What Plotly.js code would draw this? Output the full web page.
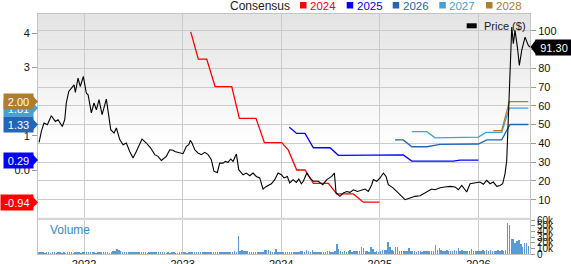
<!DOCTYPE html>
<html><head><meta charset="utf-8">
<script src="https://cdn.plot.ly/plotly-3.0.1.min.js"></script>
<style>html,body{margin:0;padding:0;background:#fff}#c{width:571px;height:264px}</style>
</head><body><div id="c"></div>
<script>
// ---- data ----
const priceT = [2021.544,2021.567,2021.594,2021.628,2021.668,2021.709,2021.736,2021.780,2021.804,2021.820,2021.845,2021.878,2021.899,2021.912,2021.939,2021.962,2021.993,
2022.023,2022.041,2022.074,2022.101,2022.125,2022.152,2022.183,2022.226,2022.271,2022.304,2022.328,2022.362,2022.396,2022.429,2022.463,2022.497,2022.530,2022.588,2022.632,2022.676,2022.717,2022.751,2022.784,2022.835,2022.869,2022.903,2022.920,2022.971,
2023.004,2023.038,2023.062,2023.078,2023.095,2023.123,2023.156,2023.190,2023.224,2023.258,2023.291,2023.318,2023.352,2023.376,2023.410,2023.433,2023.460,2023.488,2023.511,2023.545,2023.569,2023.613,2023.646,2023.681,2023.714,2023.747,2023.782,2023.815,2023.849,2023.900,2023.934,2023.968,
2024.001,2024.028,2024.062,2024.086,2024.120,2024.153,2024.178,2024.204,2024.224,2024.259,2024.292,2024.326,2024.376,2024.421,2024.462,2024.512,2024.539,2024.556,2024.596,2024.630,2024.664,2024.698,2024.731,2024.772,2024.816,2024.850,2024.883,2024.918,2024.934,2024.969,
2025.002,2025.036,2025.063,2025.086,2025.137,2025.188,2025.256,2025.306,2025.357,2025.408,2025.458,2025.492,2025.526,2025.560,2025.611,2025.661,2025.712,2025.763,2025.796,2025.831,2025.881,2025.915,2025.966,
2026.016,2026.050,2026.084,2026.118,2026.151,2026.186,2026.219,2026.246,2026.270,2026.287,2026.297,2026.313,2026.331,2026.338,2026.354,2026.371,2026.395,2026.415,2026.439,2026.473,2026.506,2026.523];
const priceV = [40.5,46.4,50.8,49.9,54.7,51.7,52.6,49.0,52.6,61.5,67.7,69.5,71.2,67.1,74.8,70.3,75.7,
66.8,65.9,56.2,61.5,57.9,63.3,55.3,63.6,47.3,45.5,48.2,42.0,39.3,40.2,35.7,32.2,35.7,42.3,40.2,37.5,34.0,33.1,30.9,33.1,36.6,36.3,35.7,34.9,
34.5,38.4,39.3,41.6,40.2,36.6,34.9,34.0,35.2,34.0,31.3,25.1,24.5,29.5,29.5,30.4,29.9,31.7,30.4,34.3,26.0,23.3,24.2,22.8,24.2,22.4,21.6,15.7,17.1,18.5,20.7,24.2,
23.3,21.6,22.4,18.9,20.7,19.2,21.0,18.5,19.8,24.2,21.6,19.8,19.8,18.0,20.7,22.4,24.2,13.6,11.8,13.6,14.4,13.9,15.3,14.4,15.3,15.7,14.4,18.0,20.7,19.8,
21.6,24.2,22.4,18.0,16.2,13.6,10.0,10.9,11.8,12.1,13.6,14.4,15.7,15.3,16.4,16.8,17.1,16.8,15.3,17.6,14.1,18.5,18.9,
19.4,18.2,20.3,18.5,19.4,17.1,17.6,18.5,23.9,30.9,46.9,73.5,98.4,102,93.1,100.2,91.3,81.5,89.5,96.6,92.2,91.3];

const eps2024T = [2023.082,2023.159,2023.244,2023.329,2023.498,2023.575,2023.744,2023.829,2024.005,2024.072,2024.157,2024.241,2024.326,2024.478,2024.563,2024.731,2024.833,2024.995];
const eps2024V = [4.04,3.24,3.24,2.44,2.44,1.51,1.51,0.80,0.80,0.58,0.00,0.00,-0.39,-0.39,-0.70,-0.70,-0.94,-0.94];
const eps2025T = [2024.082,2024.157,2024.241,2024.326,2024.495,2024.579,2025.238,2025.324,2025.745,2025.813,2025.999];
const eps2025V = [1.25,1.07,1.07,0.65,0.65,0.43,0.44,0.26,0.26,0.29,0.29];
const eps2026T = [2025.154,2025.238,2025.324,2025.476,2025.611,2025.999,2026.084,2026.236,2026.320,2026.506];
const eps2026V = [0.88,0.88,0.68,0.68,0.75,0.76,0.88,0.88,1.33,1.33];
const eps2027T = [2025.324,2025.476,2025.560,2025.999,2026.077,2026.236,2026.313,2026.506];
const eps2027V = [1.12,1.12,0.94,0.96,1.10,1.10,1.81,1.81];
const eps2028T = [2026.151,2026.236,2026.313,2026.506];
const eps2028V = [1.15,1.15,2.00,2.00];

// weekly volume (thousands), first week starting mid-July 2021
const volStart = 2021.545;
const volK = [4,3,3,2,3,3,2,3,3,2,3,3,2,
3,2,3,3,3,2,3,4,3,2,3,3,3,
3,4,3,3,2,3,3,3,4,3,3,2,3,
5,6,9,7,5,4,4,3,3,4,3,3,3,
3,3,4,3,3,2,3,3,3,3,4,3,3,
3,3,2,3,2,3,3,2,2,3,3,3,3,
2,3,3,3,3,3,3,4,3,3,3,3,3,
3,4,3,4,3,4,4,3,3,4,4,4,5,
4,33,6,7,6,6,5,4,4,3,3,4,3,
4,3,7,8,7,5,4,4,9,3,3,4,4,
3,3,3,3,4,3,3,4,6,5,4,8,5,
4,7,4,3,3,3,4,3,4,5,5,4,4,
6,17,9,5,4,6,4,5,8,4,6,5,6,
6,12,10,5,5,4,12,9,4,5,4,5,7,
8,8,21,12,7,5,12,12,6,5,6,5,6,
10,5,6,5,4,6,5,4,5,6,5,5,6,
5,16,8,10,8,6,5,7,6,5,6,7,5,
11,6,7,5,6,6,5,9,5,5,6,5,5,
7,6,8,6,7,5,6,6,8,6,7,6,8,
55,51,27,27,20,23,25,17,12,20,20,15,14];
const volT = volK.map((v,i)=>volStart + i/52);

const yearTicks = [2022,2023,2024,2025,2026];
const priceTicks = [10,20,30,40,50,60,70,80,90,100];
const epsTicks = [-1,0,1,2,3,4];
const epsTickText = ['-1','0.0','1','2','3','4'];
const volTicks = [0,10,20,30,40,50,60];
const volTickText = ['0','10k','20k','30k','40k','50k','60k'];
const seriesNames = ['2024','2025','2026','2027','2028'];

// ---- styling ----
const C = {'2024':'#ff0000','2025':'#0000ff','2026':'#2166b8','2027':'#3fa2d8','2028':'#b07d2e'};
const W=571,H=264,L=38,R=41,T=14,B=10,PW=W-L-R,PH=H-T-B;
const px = x => (x-L)/PW, py = y => (H-B-y)/PH;
const FONT = 'Arial, "Liberation Sans", sans-serif';

const epsSeries = {'2024':[eps2024T,eps2024V],'2025':[eps2025T,eps2025V],'2026':[eps2026T,eps2026V],'2027':[eps2027T,eps2027V],'2028':[eps2028T,eps2028V]};

const traces = [];
['2027','2028','2026','2025','2024'].forEach(k=>{
  traces.push({x:epsSeries[k][0], y:epsSeries[k][1], type:'scatter', mode:'lines', yaxis:'y',
    line:{color:C[k], width:1.3}, hoverinfo:'skip'});
});
traces.push({x:priceT, y:priceV, type:'scatter', mode:'lines', yaxis:'y2', line:{color:'#000', width:1.1}, hoverinfo:'skip'});
traces.push({x:volT, y:volK, type:'bar', yaxis:'y3', width:0.0145, marker:{color:'#5b9bd5', line:{width:0}}, hoverinfo:'skip'});

const shapes = [];
// background gradient of main panel
const N=26;
for(let k=0;k<N;k++){
  const y1 = 1 - k*0.65/N, y0 = y1 - 0.65/N - 0.002;
  const c = Math.round(227 + (255-227)*(k+0.5)/N);
  shapes.push({type:'rect', layer:'below', xref:'paper', yref:'y domain', x0:0, x1:1, y0:y0, y1:y1,
    fillcolor:`rgb(${c},${c},${c})`, line:{width:0}});
}
// separator band between panels
shapes.push({type:'rect', xref:'paper', yref:'paper', x0:0, x1:1, y0:py(220), y1:py(217.8), fillcolor:'#d6d6d6', line:{width:0}});

const annotations = [];
// left EPS tags
const tagOrder = ['2027','2028','2026','2025','2024'];
tagOrder.forEach(k=>{
  const vals = epsSeries[k][1];
  const v = vals[vals.length-1];
  const neg = v < 0;
  const x0 = neg ? 0 : 3;
  shapes.push({type:'path', xref:'paper', yref:'y', xsizemode:'pixel', ysizemode:'pixel',
    xanchor:px(32), yanchor:v, path:'M-1,-7.5 L6,0 L-1,7.5 Z', fillcolor:C[k], line:{width:0}});
  annotations.push({xref:'paper', yref:'y', x:px(x0), y:v, xanchor:'left', yanchor:'middle',
    text:v.toFixed(2), showarrow:false, width:32-x0, height:15, bgcolor:C[k], borderpad:0,
    font:{family:FONT, size:11, color:'#fff'}, align:'center'});
});
// right price tag
const lastPrice = priceV[priceV.length-1];
shapes.push({type:'path', xref:'paper', yref:'y2', xsizemode:'pixel', ysizemode:'pixel',
  xanchor:px(535), yanchor:lastPrice, path:'M1,-7.5 L-4.5,0 L1,7.5 Z', fillcolor:'#000', line:{width:0}});
annotations.push({xref:'paper', yref:'y2', x:px(535), y:lastPrice, xanchor:'left', yanchor:'middle',
  text:lastPrice.toFixed(2), showarrow:false, width:36, height:15, bgcolor:'#000', borderpad:0,
  font:{family:FONT, size:11, color:'#fff'}, align:'center'});

// top legend
annotations.push({xref:'paper', yref:'paper', x:px(228), y:py(5.5), xanchor:'left', yanchor:'middle', showarrow:false,
  text:'Consensus', font:{family:FONT, size:12, color:'#1a1a1a'}});
const legPos = {'2024':300,'2025':346.7,'2026':392.7,'2027':439.3,'2028':486};
seriesNames.forEach(k=>{
  const x = legPos[k];
  shapes.push({type:'rect', xref:'paper', yref:'paper', x0:px(x), x1:px(x+6.5), y0:py(8.5), y1:py(2), fillcolor:C[k], line:{width:0}});
  annotations.push({xref:'paper', yref:'paper', x:px(x+8), y:py(5.5), xanchor:'left', yanchor:'middle', showarrow:false,
    text:k, font:{family:FONT, size:11.5, color:C[k]}});
});
// price legend inside plot
shapes.push({type:'rect', xref:'paper', yref:'paper', x0:px(466.7), x1:px(476.7), y0:py(28.3), y1:py(23.3), fillcolor:'#000', line:{width:0}});
annotations.push({xref:'paper', yref:'paper', x:px(481.5), y:py(26), xanchor:'left', yanchor:'middle', showarrow:false,
  text:'Price ($)', font:{family:FONT, size:11, color:'#1a1a1a'}});
// volume label
annotations.push({xref:'paper', yref:'paper', x:px(47.5), y:py(229.5), xanchor:'left', yanchor:'middle', showarrow:false,
  text:'Volume', font:{family:FONT, size:12, color:'#3b88c8'}});

const layout = {
  width:W, height:H, margin:{l:L, r:R, t:T, b:B, pad:0},
  paper_bgcolor:'#fff', plot_bgcolor:'rgba(0,0,0,0)', showlegend:false,
  font:{family:FONT, size:11, color:'#111'},
  bargap:0,
  xaxis:{anchor:'y3', range:[2021.533,2026.523], tickvals:yearTicks, ticktext:yearTicks.map(String),
    showgrid:true, gridcolor:'#cacaca', gridwidth:1, ticks:'', showline:true, linecolor:'#c4c4c4', mirror:'all',
    zeroline:false, tickfont:{size:11, color:'#111'}, fixedrange:true},
  yaxis:{domain:[py(218.5),1], range:[-1.418,4.561], side:'left', anchor:'x', tickvals:epsTicks, ticktext:epsTickText,
    showgrid:false, ticks:'outside', ticklen:5, tickcolor:'#9a9a9a', showline:true, linecolor:'#c4c4c4', mirror:true,
    zeroline:false, tickfont:{size:11, color:'#111'}},
  yaxis2:{overlaying:'y', side:'right', anchor:'x', range:[0,108.9], tickvals:priceTicks,
    showgrid:true, gridcolor:'#cacaca', gridwidth:1, ticks:'outside', ticklen:5, tickcolor:'#9a9a9a',
    zeroline:false, tickfont:{size:11, color:'#111'}},
  yaxis3:{domain:[0,py(219.8)], range:[0,61], side:'right', anchor:'x', tickvals:volTicks, ticktext:volTickText,
    showgrid:false, ticks:'outside', ticklen:4, tickcolor:'#9a9a9a', showline:true, linecolor:'#c4c4c4', mirror:true,
    zeroline:false, tickfont:{size:10, color:'#111'}},
  shapes:shapes, annotations:annotations
};
Plotly.newPlot('c', traces, layout, {staticPlot:true, displayModeBar:false});
</script></body></html>
